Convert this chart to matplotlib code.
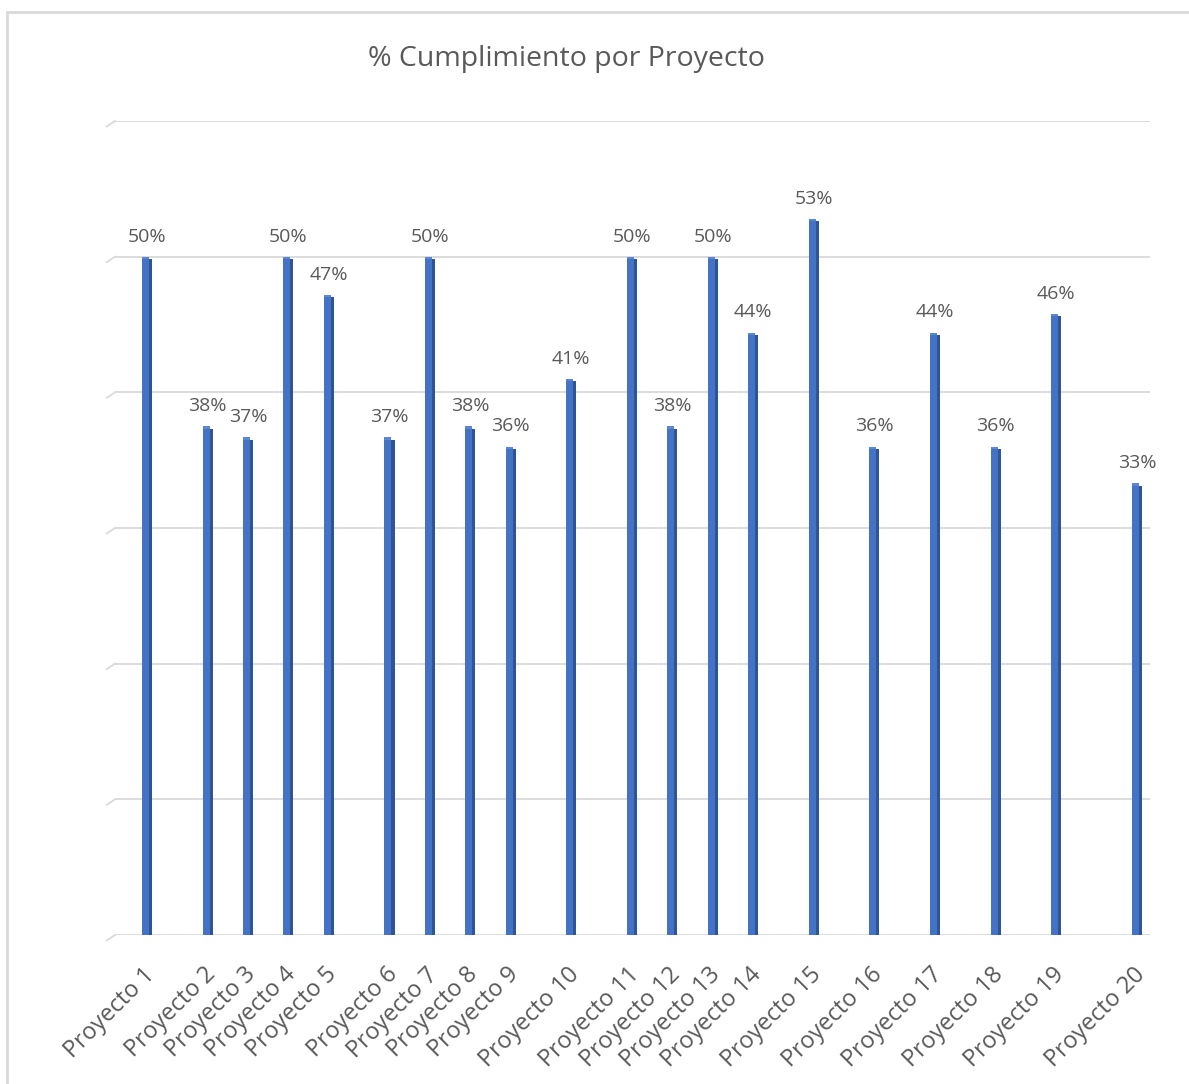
import numpy as np
import matplotlib
matplotlib.use("Agg")
import matplotlib.pyplot as plt
from matplotlib.patches import Rectangle

# datos del grafico
proyectos = ["Proyecto %d" % i for i in range(1, 21)]
cumplimiento = [0.50, 0.375, 0.367, 0.50, 0.472, 0.367, 0.50, 0.375, 0.36, 0.41,
                0.50, 0.375, 0.50, 0.444, 0.528, 0.36, 0.444, 0.36, 0.458, 0.333]
etiquetas = ["50%", "38%", "37%", "50%", "47%", "37%", "50%", "38%", "36%", "41%",
             "50%", "38%", "50%", "44%", "53%", "36%", "44%", "36%", "46%", "33%"]
# posicion de cada proyecto en el eje (espaciado irregular del original)
posicion = [0, 3, 5, 7, 9, 12, 14, 16, 18, 21, 24, 26, 28, 30, 33, 36, 39, 42, 45, 49]

plt.rcParams['font.family'] = ['Open Sans', 'DejaVu Sans']
txt = '#595959'

fig = plt.figure(figsize=(11.89, 10.84), dpi=100)
ax = fig.add_axes([0.0967, 0.1375, 0.8705, 0.7509])

# marco exterior (solo se ven el borde izquierdo y el superior)
fig.patches.append(Rectangle((0.0059, -0.05), 1.05, 1.039, transform=fig.transFigure,
                             fill=False, edgecolor='#d9d9d9', linewidth=2.0))

# lineas de cuadricula con el pequeño bisel 3D a la izquierda
for g in np.arange(0, 0.61, 0.1):
    ax.axhline(g, color='#d9d9d9', linewidth=1.3, zorder=0)
    ax.plot([-1.98, -1.58], [g - 0.004, g], color='#d9d9d9', linewidth=1.3,
            clip_on=False, zorder=0)

x = np.array(posicion, dtype=float)
v = np.array(cumplimiento)
ax.bar(x - 0.075, v + 0.004, width=0.35, bottom=-0.004, color='#4472C4', zorder=3)
ax.bar(x + 0.175, v + 0.002, width=0.15, bottom=-0.004, color='#2F5597', zorder=3)
ax.bar(x - 0.075, 0.002, width=0.35, bottom=v - 0.002, color='#5a86d6', zorder=4)

for xi, vi, lab in zip(x, v, etiquetas):
    ax.annotate(lab, (xi, vi), xytext=(0, 8), textcoords='offset points',
                ha='center', va='bottom', fontsize=14, color=txt)

ax.set_xlim(-1.584, 49.64)
ax.set_ylim(0, 0.6)
ax.set_yticks([])
ax.set_xticks(x)
ax.set_xticklabels([])
ax.tick_params(axis='x', length=0)
for s in ax.spines.values():
    s.set_visible(False)

for xi, nm in zip(x, proyectos):
    ax.annotate(nm, (xi, 0), xytext=(-3, -20), textcoords='offset points',
                ha='right', va='top', rotation=45, rotation_mode='anchor',
                fontsize=17, color=txt)

fig.text(0.476, 0.946, "% Cumplimiento por Proyecto", ha='center', va='center',
         fontsize=20.5, color=txt)

fig.savefig("out.png", dpi=100)
